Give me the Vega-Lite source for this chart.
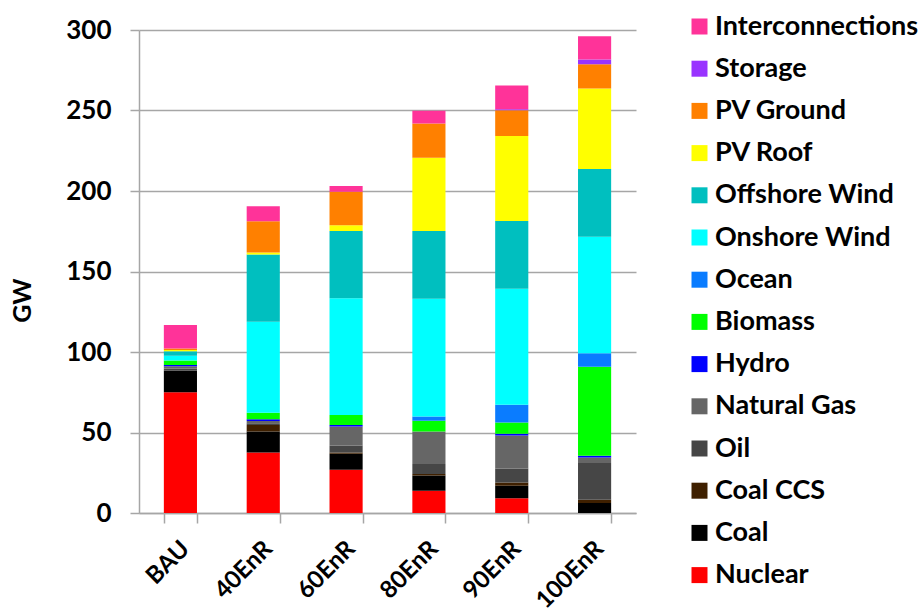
{
  "$schema": "https://vega.github.io/schema/vega-lite/v6.json",
  "autosize": "none",
  "width": 497,
  "height": 483,
  "padding": {"left": 139, "top": 30, "right": 288, "bottom": 102},
  "background": "white",
  "config": {"view": {"stroke": null}, "font": "Lato"},
  "data": {"values": [
    {"s":"BAU","src":"Nuclear","k":1,"v":75.0},{"s":"BAU","src":"Coal","k":2,"v":13.5},{"s":"BAU","src":"Coal CCS","k":3,"v":0},{"s":"BAU","src":"Oil","k":4,"v":1.3},{"s":"BAU","src":"Natural Gas","k":5,"v":1.4},{"s":"BAU","src":"Hydro","k":6,"v":0.8},{"s":"BAU","src":"Biomass","k":7,"v":2.7},{"s":"BAU","src":"Ocean","k":8,"v":0},{"s":"BAU","src":"Onshore Wind","k":9,"v":3.0},{"s":"BAU","src":"Offshore Wind","k":10,"v":2.7},{"s":"BAU","src":"PV Roof","k":11,"v":0.8},{"s":"BAU","src":"PV Ground","k":12,"v":1.0},{"s":"BAU","src":"Storage","k":13,"v":0},{"s":"BAU","src":"Interconnections","k":14,"v":14.5},
    {"s":"40EnR","src":"Nuclear","k":1,"v":37.6},{"s":"40EnR","src":"Coal","k":2,"v":13.0},{"s":"40EnR","src":"Coal CCS","k":3,"v":4.0},{"s":"40EnR","src":"Oil","k":4,"v":1.2},{"s":"40EnR","src":"Natural Gas","k":5,"v":1.4},{"s":"40EnR","src":"Hydro","k":6,"v":1.0},{"s":"40EnR","src":"Biomass","k":7,"v":4.1},{"s":"40EnR","src":"Ocean","k":8,"v":0},{"s":"40EnR","src":"Onshore Wind","k":9,"v":56.5},{"s":"40EnR","src":"Offshore Wind","k":10,"v":41.8},{"s":"40EnR","src":"PV Roof","k":11,"v":1.2},{"s":"40EnR","src":"PV Ground","k":12,"v":19.4},{"s":"40EnR","src":"Storage","k":13,"v":0},{"s":"40EnR","src":"Interconnections","k":14,"v":9.3},
    {"s":"60EnR","src":"Nuclear","k":1,"v":26.9},{"s":"60EnR","src":"Coal","k":2,"v":9.9},{"s":"60EnR","src":"Coal CCS","k":3,"v":0.8},{"s":"60EnR","src":"Oil","k":4,"v":4.3},{"s":"60EnR","src":"Natural Gas","k":5,"v":11.8},{"s":"60EnR","src":"Hydro","k":6,"v":0.9},{"s":"60EnR","src":"Biomass","k":7,"v":6.2},{"s":"60EnR","src":"Ocean","k":8,"v":0},{"s":"60EnR","src":"Onshore Wind","k":9,"v":72.6},{"s":"60EnR","src":"Offshore Wind","k":10,"v":41.7},{"s":"60EnR","src":"PV Roof","k":11,"v":3.7},{"s":"60EnR","src":"PV Ground","k":12,"v":20.7},{"s":"60EnR","src":"Storage","k":13,"v":0},{"s":"60EnR","src":"Interconnections","k":14,"v":3.6},
    {"s":"80EnR","src":"Nuclear","k":1,"v":13.8},{"s":"80EnR","src":"Coal","k":2,"v":9.5},{"s":"80EnR","src":"Coal CCS","k":3,"v":0.9},{"s":"80EnR","src":"Oil","k":4,"v":6.2},{"s":"80EnR","src":"Natural Gas","k":5,"v":20.2},{"s":"80EnR","src":"Hydro","k":6,"v":0},{"s":"80EnR","src":"Biomass","k":7,"v":6.7},{"s":"80EnR","src":"Ocean","k":8,"v":2.6},{"s":"80EnR","src":"Onshore Wind","k":9,"v":73.2},{"s":"80EnR","src":"Offshore Wind","k":10,"v":42.0},{"s":"80EnR","src":"PV Roof","k":11,"v":45.5},{"s":"80EnR","src":"PV Ground","k":12,"v":21.3},{"s":"80EnR","src":"Storage","k":13,"v":0},{"s":"80EnR","src":"Interconnections","k":14,"v":7.9},
    {"s":"90EnR","src":"Nuclear","k":1,"v":9.1},{"s":"90EnR","src":"Coal","k":2,"v":7.8},{"s":"90EnR","src":"Coal CCS","k":3,"v":2.1},{"s":"90EnR","src":"Oil","k":4,"v":8.7},{"s":"90EnR","src":"Natural Gas","k":5,"v":20.4},{"s":"90EnR","src":"Hydro","k":6,"v":1.1},{"s":"90EnR","src":"Biomass","k":7,"v":7.0},{"s":"90EnR","src":"Ocean","k":8,"v":11.0},{"s":"90EnR","src":"Onshore Wind","k":9,"v":72.1},{"s":"90EnR","src":"Offshore Wind","k":10,"v":42.0},{"s":"90EnR","src":"PV Roof","k":11,"v":52.8},{"s":"90EnR","src":"PV Ground","k":12,"v":16.1},{"s":"90EnR","src":"Storage","k":13,"v":0.5},{"s":"90EnR","src":"Interconnections","k":14,"v":14.9},
    {"s":"100EnR","src":"Nuclear","k":1,"v":0},{"s":"100EnR","src":"Coal","k":2,"v":6.2},{"s":"100EnR","src":"Coal CCS","k":3,"v":2.1},{"s":"100EnR","src":"Oil","k":4,"v":22.7},{"s":"100EnR","src":"Natural Gas","k":5,"v":3.5},{"s":"100EnR","src":"Hydro","k":6,"v":1.0},{"s":"100EnR","src":"Biomass","k":7,"v":55.4},{"s":"100EnR","src":"Ocean","k":8,"v":8.4},{"s":"100EnR","src":"Onshore Wind","k":9,"v":72.3},{"s":"100EnR","src":"Offshore Wind","k":10,"v":42.0},{"s":"100EnR","src":"PV Roof","k":11,"v":50.0},{"s":"100EnR","src":"PV Ground","k":12,"v":15.1},{"s":"100EnR","src":"Storage","k":13,"v":2.9},{"s":"100EnR","src":"Interconnections","k":14,"v":14.5}
  ]},
  "mark": {"type": "bar"},
  "encoding": {
    "x": {
      "field": "s", "type": "nominal",
      "sort": ["BAU","40EnR","60EnR","80EnR","90EnR","100EnR"],
      "scale": {"paddingInner": 0.6, "paddingOuter": 0.3},
      "axis": {
        "title": null, "labelAngle": -45, "labelAlign": "right", "labelBaseline": "middle",
        "labelFontSize": 24, "labelFontWeight": "bold", "labelColor": "black", "labelPadding": 22, "labelOffset": 5,
        "tickBand": "extent", "tickSize": 10, "tickColor": "#A6A6A6", "tickWidth": 1.5,
        "domainColor": "#A6A6A6", "domainWidth": 1.5, "grid": false
      }
    },
    "y": {
      "field": "v", "type": "quantitative", "stack": "zero",
      "scale": {"domain": [0, 300]},
      "axis": {
        "title": "GW", "titleFontSize": 25, "titleFontWeight": "bold", "titleColor": "black",
        "titleAngle": -90, "titleX": -117, "titleY": 270, "titleAlign": "center", "titleBaseline": "middle",
        "values": [0,50,100,150,200,250,300],
        "labelFontSize": 26, "labelFontWeight": "bold", "labelColor": "black", "labelPadding": 19,
        "tickSize": 9, "tickColor": "#A6A6A6", "tickWidth": 1.5,
        "domainColor": "#A6A6A6", "domainWidth": 1.5,
        "grid": true, "gridColor": "#A6A6A6", "gridWidth": 1.5
      }
    },
    "color": {
      "field": "src", "type": "nominal",
      "scale": {
        "domain": ["Interconnections","Storage","PV Ground","PV Roof","Offshore Wind","Onshore Wind","Ocean","Biomass","Hydro","Natural Gas","Oil","Coal CCS","Coal","Nuclear"],
        "range": ["#FF3399","#9933FF","#FF8000","#FFFF00","#00BFBF","#00FFFF","#0A7CFF","#00FF00","#0000FF","#666666","#464646","#3F2000","#000000","#FF0000"]
      },
      "legend": {
        "title": null, "orient": "none", "legendX": 547, "legendY": -17,
        "symbolType": "square", "symbolSize": 256, "symbolStrokeWidth": 0,
        "labelFontSize": 27, "labelFontWeight": "bold", "labelColor": "black",
        "labelOffset": 2, "rowPadding": 14.2, "labelLimit": 400
      }
    },
    "order": {"field": "k", "type": "quantitative", "sort": "ascending"}
  }
}
